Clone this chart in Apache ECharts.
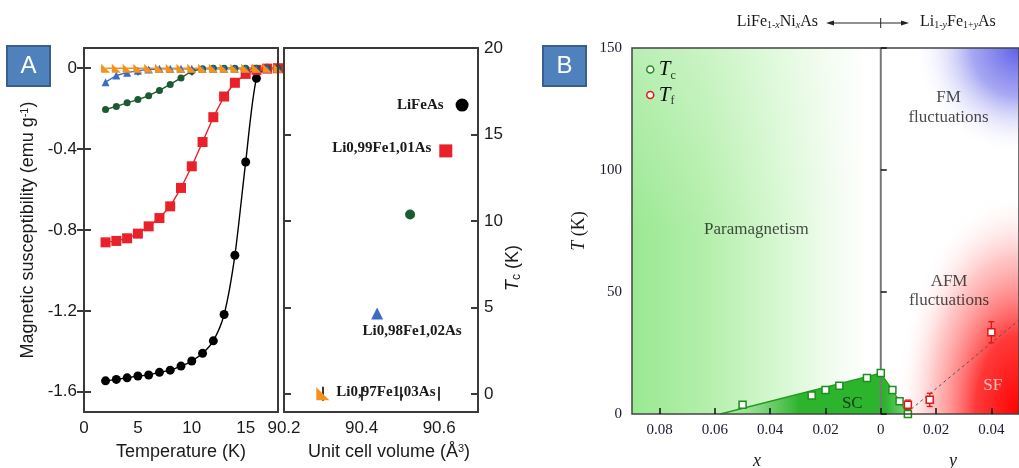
<!DOCTYPE html>
<html><head><meta charset="utf-8">
<script src="https://cdn.jsdelivr.net/npm/echarts@6/dist/echarts.min.js"></script>
<style>html,body{margin:0;padding:0;background:#fff}#c{width:1019px;height:468px}</style>
</head><body><div id="c"></div>
<script>
// ===== Panel A, left: susceptibility vs temperature =====
const temperatureK = [2,3,4,5,6,7,8,9,10,11,12,13,14,15,16,17,18];
const chiLiFeAs  = [-1.546,-1.539,-1.531,-1.522,-1.517,-1.504,-1.493,-1.473,-1.448,-1.410,-1.348,-1.218,-0.925,-0.464,-0.05,0,0];
const chiLi099   = [-0.861,-0.854,-0.841,-0.818,-0.782,-0.741,-0.683,-0.592,-0.485,-0.365,-0.242,-0.140,-0.072,-0.028,-0.008,-0.002,0];
const chiGreen   = [-0.204,-0.189,-0.171,-0.155,-0.136,-0.110,-0.080,-0.048,-0.015,-0.002,0,0,0,0,0,0,0];
const chiLi098   = [-0.069,-0.036,-0.022,-0.012,-0.006,-0.003,-0.003,-0.003,-0.003,-0.003,-0.003,-0.003,-0.003,-0.003,-0.003,-0.003,-0.003];
const chiLi097   = [0,0,0,0,0,0,0,0,0,0,0,0,0,0,0,0,0];
const chiTicks   = [-1.6,-1.2,-0.8,-0.4,0];
const tempLabels = [0, 5, 10, 15];
const tempTicks  = [5, 10, 15];

// ===== Panel A, right: Tc vs unit cell volume =====
const compoundNames = ['LiFeAs','Li0,99Fe1,01As','','Li0,98Fe1,02As','Li0,97Fe1,03As'];
const cellVolume    = [90.659, 90.617, 90.525, 90.44, 90.30];
const tcValues      = [16.7, 14.05, 10.37, 4.65, 0];
const volumeLabels  = [90.2, 90.4, 90.6];
const volumeTicks   = [90.3, 90.4, 90.5, 90.6];
const tcTicks       = [0, 5, 10, 15, 20];

// ===== Panel B: phase diagram (negative = x in LiFe1-xNixAs, positive = y in Li1-yFe1+yAs) =====
const tcDopingB   = [-0.05, -0.025, -0.02, -0.015, -0.005, 0, 0.0042, 0.0068, 0.0098];
const tcTempB     = [3.8, 7.6, 9.8, 11.6, 14.8, 16.8, 9.8, 5.2, 0];
const tfDopingB   = [0.0098, 0.0177, 0.040];
const tfTempB     = [3.8, 5.8, 33.5];
const tfErrB      = [1.9, 2.7, 4.3];
const scEdgeX     = [-0.058, 0, 0.0042, 0.0068, 0.0098];
const scEdgeT     = [0, 16.8, 9.8, 5.2, 0];
const trendX      = [0.011, 0.05];
const trendT      = [2, 38.5];
const dopingTicks = [-0.08, -0.06, -0.04, -0.02, 0, 0.02, 0.04];
const phaseTexts  = ['Paramagnetism','FM','fluctuations','AFM','fluctuations','SC','SF'];

// ---------- layout / styles ----------
const phaseTextAt = [[-0.045,75.6],[0.0245,129.5],[0.0245,121.5],[0.0247,54.2],[0.0247,46.5],[-0.0103,4.4],[0.0405,11.8]];
const SANS = 'Liberation Sans', SERIF = 'Liberation Serif';
const zip = (a, b) => a.map((v, i) => [v, b[i]]);
const frameCol = '#3a3a3a';
function baseAxis(o) {
  return Object.assign({
    type: 'value', nameMoveOverlap: false,
    axisLine: { show: false }, splitLine: { show: false },
    axisTick: { show: true, inside: true, length: 7, lineStyle: { color: frameCol, width: 2 } },
    axisLabel: { show: false }
  }, o);
}
const lblA = { show: true, fontFamily: SANS, fontSize: 17, color: '#1a1a1a' };
const fmtNum = v => (Math.abs(v) < 1e-9 ? '0' : String(+v.toFixed(2)));

const chart = echarts.init(document.getElementById('c'), null, { renderer: 'canvas' });

const curveStyles = [
  { name: 'LiFeAs', data: chiLiFeAs, color: '#000', symbol: 'circle', size: 9, smooth: 0.25 },
  { name: 'Li0,99Fe1,01As', data: chiLi099, color: '#e8212a', symbol: 'rect', size: 10, smooth: 0 },
  { name: 'green', data: chiGreen, color: '#1c5a32', symbol: 'circle', size: 7, smooth: 0 },
  { name: 'Li0,98Fe1,02As', data: chiLi098, color: '#3a6cc4', symbol: 'triangle', size: 8, smooth: 0 },
  { name: 'Li0,97Fe1,03As', data: chiLi097, color: '#f5921e', symbol: 'path://M0,0L0,10L10,10Z', size: 9, smooth: 0 }
];
const pointStyles = [
  { color: '#000', symbol: 'circle', size: 13, pos: 'left', dist: 12, off: [0, 0] },
  { color: '#e8212a', symbol: 'rect', size: 13, pos: 'left', dist: 8, off: [0, -3] },
  { color: '#1c5a32', symbol: 'circle', size: 10, pos: 'left', dist: 8, off: [0, 0] },
  { color: '#3a6cc4', symbol: 'triangle', size: 12, pos: 'bottom', dist: 4, off: [35, 0] },
  { color: '#f5921e', symbol: 'path://M0,0L0,10L10,10Z', size: 13, pos: 'right', dist: 7, off: [0, -2] }
];

const series = [];
curveStyles.forEach(c => series.push({
  type: 'line', name: c.name, xAxisIndex: 0, yAxisIndex: 0,
  data: zip(temperatureK, c.data), smooth: c.smooth,
  symbol: c.symbol, symbolSize: c.size, showSymbol: true,
  lineStyle: { color: c.color, width: 1.4 }, itemStyle: { color: c.color, opacity: 1 },
  silent: true, animation: false
}));
series.push({
  type: 'scatter', xAxisIndex: 2, yAxisIndex: 3, silent: true, animation: false,
  data: cellVolume.map((v, i) => ({
    value: [v, tcValues[i]], symbol: pointStyles[i].symbol, symbolSize: pointStyles[i].size,
    itemStyle: { color: pointStyles[i].color, opacity: 1 },
    label: { show: compoundNames[i] !== '', formatter: compoundNames[i], position: pointStyles[i].pos,
      distance: pointStyles[i].dist, offset: pointStyles[i].off,
      fontFamily: SERIF, fontWeight: 'bold', fontSize: 15, color: '#1a1a1a' }
  }))
});

// Panel B backgrounds
series.push({
  type: 'custom', xAxisIndex: 4, yAxisIndex: 4, silent: true, animation: false, z: 1,
  data: [[-0.09, 0, 0, 150]],
  renderItem: (p, api) => {
    const a = api.coord([api.value(0), api.value(3)]);
    const b = api.coord([api.value(2), api.value(1)]);
    const shape = { x: a[0], y: a[1], width: b[0] - a[0], height: b[1] - a[1] };
    return { type: 'group', children: [
      { type: 'rect', shape, style: { fill: new echarts.graphic.LinearGradient(0, 0, 1, 0, [
        { offset: 0, color: '#9ae892' }, { offset: 0.3, color: '#b4efab' },
        { offset: 0.6, color: '#d8f8d3' }, { offset: 0.82, color: '#f3fcf1' }, { offset: 0.95, color: '#ffffff' }]) } },
      { type: 'rect', shape, style: { fill: new echarts.graphic.LinearGradient(0, 0, 0, 1, [
        { offset: 0, color: 'rgba(255,255,255,0.3)' }, { offset: 0.5, color: 'rgba(255,255,255,0)' }]) } }
    ] };
  }
});
const glowStops = [
  [{ offset: 0, color: 'rgba(95,95,232,1)' }, { offset: 0.45, color: 'rgba(145,145,240,0.8)' }, { offset: 1, color: 'rgba(255,255,255,0)' }],
  [{ offset: 0, color: 'rgba(255,0,0,1)' }, { offset: 0.35, color: 'rgba(255,40,40,0.92)' }, { offset: 0.7, color: 'rgba(255,140,140,0.5)' }, { offset: 1, color: 'rgba(255,255,255,0)' }]
];
const glowAngles = [[Math.PI / 2, Math.PI], [Math.PI, Math.PI * 1.5]];
series.push({
  type: 'custom', xAxisIndex: 4, yAxisIndex: 4, silent: true, animation: false, z: 1, clip: true,
  data: [[0.05, 150, 0.038, -44], [0.05, 0, 0.045, 92]],
  renderItem: (p, api) => {
    const c = api.coord([api.value(0), api.value(1)]);
    const e = api.coord([api.value(0) + api.value(2), api.value(1) + api.value(3)]);
    const rx = Math.abs(e[0] - c[0]), ry = Math.abs(e[1] - c[1]);
    const ang = glowAngles[p.dataIndex];
    return { type: 'sector', x: c[0], y: c[1], scaleX: 1, scaleY: ry / rx,
      shape: { cx: 0, cy: 0, r0: 0, r: rx, startAngle: ang[0], endAngle: ang[1], clockwise: true },
      style: { fill: new echarts.graphic.RadialGradient(0, 0, rx, glowStops[p.dataIndex], true) } };
  }
});
// SC dome
series.push({
  type: 'line', xAxisIndex: 4, yAxisIndex: 4, silent: true, animation: false, z: 3,
  data: zip(scEdgeX, scEdgeT), symbol: 'none',
  lineStyle: { color: '#1f9a1f', width: 1.3 },
  areaStyle: { opacity: 1, color: new echarts.graphic.LinearGradient(0, 0, 1, 0, [
    { offset: 0, color: 'rgba(60,190,60,0.05)' }, { offset: 0.2, color: 'rgba(50,180,50,0.45)' },
    { offset: 0.42, color: '#2db42d' }, { offset: 0.88, color: '#2db42d' }, { offset: 1, color: '#7ad67a' }]) }
});
// x = 0 divider
series.push({
  type: 'line', xAxisIndex: 4, yAxisIndex: 4, silent: true, animation: false, z: 4,
  data: [[0, 0], [0, 150]], symbol: 'none', lineStyle: { color: '#777', width: 2 }
});
// trend line
series.push({
  type: 'line', xAxisIndex: 4, yAxisIndex: 4, silent: true, animation: false, z: 4,
  data: zip(trendX, trendT), symbol: 'none', lineStyle: { color: '#555', width: 1, type: [3, 3] }
});
// Tf error bars
series.push({
  type: 'custom', xAxisIndex: 4, yAxisIndex: 4, silent: true, animation: false, z: 5,
  data: tfDopingB.map((v, i) => [v, tfTempB[i], tfErrB[i]]),
  renderItem: (p, api) => {
    const x = api.value(0), y = api.value(1), e = api.value(2);
    const t = api.coord([x, y + e]), b = api.coord([x, y - e]);
    const st = { stroke: '#e41414', lineWidth: 1.3 };
    return { type: 'group', children: [
      { type: 'line', shape: { x1: t[0], y1: t[1], x2: b[0], y2: b[1] }, style: st },
      { type: 'line', shape: { x1: t[0] - 3, y1: t[1], x2: t[0] + 3, y2: t[1] }, style: st },
      { type: 'line', shape: { x1: b[0] - 3, y1: b[1], x2: b[0] + 3, y2: b[1] }, style: st }
    ] };
  }
});
series.push({
  type: 'scatter', name: 'Tc', xAxisIndex: 4, yAxisIndex: 4, silent: true, animation: false, z: 6,
  data: zip(tcDopingB, tcTempB), symbol: 'rect', symbolSize: 7,
  itemStyle: { color: '#fff', borderColor: '#1b8f1b', borderWidth: 1.5, opacity: 1 }
});
series.push({
  type: 'scatter', name: 'Tf', xAxisIndex: 4, yAxisIndex: 4, silent: true, animation: false, z: 6,
  data: zip(tfDopingB, tfTempB), symbol: 'rect', symbolSize: 7,
  itemStyle: { color: '#fff', borderColor: '#e41414', borderWidth: 1.5, opacity: 1 }
});
// phase labels
series.push({
  type: 'scatter', xAxisIndex: 4, yAxisIndex: 4, silent: true, animation: false, z: 7,
  symbolSize: 0,
  data: phaseTexts.map((t, i) => ({
    value: phaseTextAt[i],
    label: { show: true, position: 'inside', formatter: t, fontFamily: SERIF, fontSize: 17,
      color: t === 'SF' ? '#ffe4e4' : '#1a1a1a' }
  }))
});

const option = {
  backgroundColor: '#fff',
  animation: false,
  grid: [
    { left: 84, top: 48, width: 194, height: 364, show: true, borderColor: frameCol, borderWidth: 2, backgroundColor: 'transparent', z: 10 },
    { left: 284, top: 48, width: 194, height: 364, show: true, borderColor: frameCol, borderWidth: 2, backgroundColor: 'transparent', z: 10 },
    { left: 632, top: 48, width: 389, height: 366, show: true, borderColor: '#444', borderWidth: 1.5, backgroundColor: 'transparent', z: 10 }
  ],
  legend: {
    left: 641, top: 54, orient: 'vertical', itemWidth: 7, itemHeight: 7, itemGap: 3,
    selectedMode: false, icon: 'circle',
    data: [
      { name: 'Tc', icon: 'circle', itemStyle: { color: '#fff', borderColor: '#1b8f1b', borderWidth: 1.5, opacity: 1 } },
      { name: 'Tf', icon: 'circle', itemStyle: { color: '#fff', borderColor: '#e41414', borderWidth: 1.5, opacity: 1 } }
    ],
    formatter: n => n === 'Tc' ? '{t|T}{s|c}' : '{t|T}{s|f}',
    textStyle: { rich: {
      t: { fontFamily: SERIF, fontStyle: 'italic', fontSize: 21, color: '#111', lineHeight: 24 },
      s: { fontFamily: SERIF, fontSize: 12, color: '#333', verticalAlign: 'bottom', lineHeight: 14 }
    } }
  },
  xAxis: [
    baseAxis({ gridIndex: 0, position: 'bottom', min: 0, max: 18,
      axisTick: { show: false },
      axisLabel: Object.assign({ margin: 8, customValues: tempLabels, formatter: v => String(v) }, lblA),
      name: 'Temperature (K)', nameLocation: 'middle', nameGap: 31,
      nameTextStyle: { fontFamily: SANS, fontSize: 18, color: '#1a1a1a' } }),
    baseAxis({ gridIndex: 0, position: 'top', min: 0, max: 18,
      axisTick: { show: true, inside: true, length: 7, customValues: tempTicks, lineStyle: { color: frameCol, width: 2 } } }),
    baseAxis({ gridIndex: 1, position: 'bottom', min: 90.2, max: 90.7,
      axisTick: { show: true, inside: true, length: 7, customValues: volumeTicks, lineStyle: { color: frameCol, width: 2 } },
      axisLabel: Object.assign({ margin: 8, customValues: volumeLabels, formatter: v => v.toFixed(1) }, lblA),
      name: 'Unit cell volume (Å{sup|3})', nameLocation: 'middle', nameGap: 31,
      nameTextStyle: { fontFamily: SANS, fontSize: 18, color: '#1a1a1a', padding: [0, 0, 0, 16],
        rich: { sup: { fontFamily: SANS, fontSize: 11, verticalAlign: 'top', lineHeight: 11, color: '#1a1a1a' } } } }),
    baseAxis({ gridIndex: 1, position: 'top', min: 90.2, max: 90.7,
      axisTick: { show: true, inside: true, length: 7, customValues: volumeTicks, lineStyle: { color: frameCol, width: 2 } } }),
    baseAxis({ gridIndex: 2, position: 'bottom', min: -0.09, max: 0.05, z: 12,
      axisTick: { show: true, inside: true, length: 6, customValues: dopingTicks, lineStyle: { color: '#111', width: 1.5 } },
      axisLabel: { show: true, customValues: dopingTicks, formatter: v => fmtNum(Math.abs(v)), margin: 9,
        fontFamily: SERIF, fontSize: 15, color: '#1a1a33' } })
  ],
  yAxis: [
    baseAxis({ gridIndex: 0, position: 'left', min: -1.7, max: 0.1,
      axisTick: { show: true, inside: true, length: 7, customValues: chiTicks, lineStyle: { color: frameCol, width: 2 } },
      axisLabel: Object.assign({ margin: 7, customValues: chiTicks, formatter: v => (Math.abs(v) < 1e-9 ? '0' : v.toFixed(1)) }, lblA),
      name: 'Magnetic susceptibility (emu g{sup|-1})', nameLocation: 'middle', nameGap: 47,
      nameTextStyle: { fontFamily: SANS, fontSize: 18, color: '#1a1a1a',
        rich: { sup: { fontFamily: SANS, fontSize: 11, verticalAlign: 'top', lineHeight: 11, color: '#1a1a1a' } } } }),
    baseAxis({ gridIndex: 0, position: 'right', min: -1.7, max: 0.1,
      axisTick: { show: true, inside: true, length: 7, customValues: chiTicks, lineStyle: { color: frameCol, width: 2 } } }),
    baseAxis({ gridIndex: 1, position: 'left', min: -1.05, max: 20,
      axisTick: { show: true, inside: true, length: 7, customValues: tcTicks, lineStyle: { color: frameCol, width: 2 } } }),
    baseAxis({ gridIndex: 1, position: 'right', min: -1.05, max: 20,
      axisTick: { show: true, inside: true, length: 7, customValues: tcTicks, lineStyle: { color: frameCol, width: 2 } },
      axisLabel: Object.assign({ margin: 6, customValues: tcTicks, formatter: v => String(v) }, lblA) }),
    baseAxis({ gridIndex: 2, position: 'left', min: 0, max: 150, interval: 50, z: 12,
      axisTick: { show: true, inside: true, length: 6, lineStyle: { color: '#111', width: 1.5 } },
      axisLabel: { show: true, margin: 10, fontFamily: SERIF, fontSize: 15, color: '#1a1a33' },
      name: '{t|T} (K)', nameLocation: 'middle', nameGap: 44,
      nameTextStyle: { fontFamily: SERIF, fontSize: 18, color: '#1a1a1a',
        rich: { t: { fontFamily: SERIF, fontStyle: 'italic', fontSize: 18, color: '#1a1a1a' } } } })
  ],
  graphic: [
    { type: 'rect', shape: { x: 7, y: 46, width: 43, height: 40 }, style: { fill: '#4f81bd', stroke: '#385f8f', lineWidth: 2 } },
    { type: 'text', x: 28.5, y: 66, style: { text: 'A', fill: '#fff', font: '24px Liberation Sans', align: 'center', verticalAlign: 'middle' } },
    { type: 'rect', shape: { x: 543, y: 46, width: 43, height: 40 }, style: { fill: '#4f81bd', stroke: '#385f8f', lineWidth: 2 } },
    { type: 'text', x: 564.5, y: 66, style: { text: 'B', fill: '#fff', font: '24px Liberation Sans', align: 'center', verticalAlign: 'middle' } },
    { type: 'text', x: 513, y: 268, rotation: Math.PI / 2, style: {
      text: '{t|T}{s|c}{n| (K)}', align: 'center', verticalAlign: 'middle',
      rich: { t: { fontFamily: SANS, fontStyle: 'italic', fontSize: 18, fill: '#1a1a1a', lineHeight: 20 },
              s: { fontFamily: SANS, fontSize: 12, fill: '#1a1a1a', verticalAlign: 'bottom', lineHeight: 12 },
              n: { fontFamily: SANS, fontSize: 18, fill: '#1a1a1a', lineHeight: 20 } } } },
    { type: 'text', x: 757, y: 461, style: { text: 'x', font: 'italic 18px Liberation Serif', fill: '#1a1a1a', align: 'center', verticalAlign: 'middle' } },
    { type: 'text', x: 953, y: 461, style: { text: 'y', font: 'italic 18px Liberation Serif', fill: '#1a1a1a', align: 'center', verticalAlign: 'middle' } },
    { type: 'text', x: 818, y: 22, style: {
      text: 'LiFe{s|1-}{si|x}Ni{si|x}As', align: 'right', verticalAlign: 'middle',
      rich: { s: { fontFamily: SERIF, fontSize: 10, verticalAlign: 'bottom', lineHeight: 10, fill: '#222' },
              si: { fontFamily: SERIF, fontStyle: 'italic', fontSize: 10, verticalAlign: 'bottom', lineHeight: 10, fill: '#222' } },
      fontFamily: SERIF, fontSize: 16, fill: '#1a1a1a' } },
    { type: 'text', x: 920, y: 22, style: {
      text: 'Li{s|1-}{si|y}Fe{s|1+}{si|y}As', align: 'left', verticalAlign: 'middle',
      rich: { s: { fontFamily: SERIF, fontSize: 10, verticalAlign: 'bottom', lineHeight: 10, fill: '#222' },
              si: { fontFamily: SERIF, fontStyle: 'italic', fontSize: 10, verticalAlign: 'bottom', lineHeight: 10, fill: '#222' } },
      fontFamily: SERIF, fontSize: 16, fill: '#1a1a1a' } },
    { type: 'line', shape: { x1: 829, y1: 23, x2: 906, y2: 23 }, style: { stroke: '#222', lineWidth: 1 } },
    { type: 'line', shape: { x1: 880.7, y1: 18, x2: 880.7, y2: 28 }, style: { stroke: '#222', lineWidth: 1 } },
    { type: 'polygon', shape: { points: [[826, 23], [834, 20.5], [834, 25.5]] }, style: { fill: '#222' } },
    { type: 'polygon', shape: { points: [[909, 23], [901, 20.5], [901, 25.5]] }, style: { fill: '#222' } }
  ],
  series
};
chart.setOption(option);
</script></body></html>
